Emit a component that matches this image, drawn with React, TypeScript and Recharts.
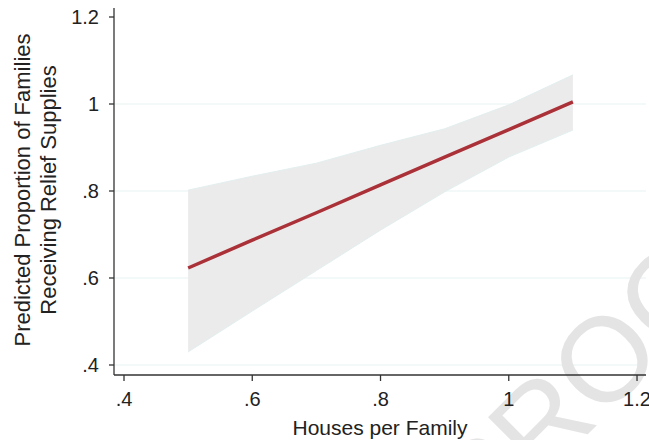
import {
  Area, CartesianGrid, ComposedChart, Line, XAxis, YAxis,
} from "recharts";

// Predicted share of families receiving relief, by houses per family, with 95% CI
const houses = [0.5, 0.6, 0.7, 0.8, 0.9, 1.0, 1.1];
const predicted = [0.623, 0.687, 0.75, 0.814, 0.878, 0.941, 1.005];
const ciLow = [0.43, 0.524, 0.617, 0.71, 0.798, 0.878, 0.94];
const ciHigh = [0.802, 0.834, 0.864, 0.905, 0.943, 0.998, 1.067];

const xTicks = [0.4, 0.6, 0.8, 1, 1.2];
const yTicks = [0.4, 0.6, 0.8, 1, 1.2];
const gridValues = [0.4, 0.6, 0.8, 1];

const data = houses.map((h, i) => ({
  houses: h,
  fit: predicted[i],
  ci: [ciLow[i], ciHigh[i]],
}));

const font = "'Liberation Sans', Arial, Helvetica, sans-serif";
const axisStroke = "#333";
const tick = { fill: "#222", fontSize: 20, fontFamily: font };
// Stata-style labels: ".4" instead of "0.4"
const fmt = (v: number) => String(Number(v.toFixed(2))).replace(/^0\./, ".");

export default function App() {
  return (
    <div style={{ position: "absolute", left: 0, top: 0, width: 649, height: 440, background: "#fff", overflow: "hidden" }}>
      <ComposedChart width={649} height={440} data={data} margin={{ top: 8, right: 3, bottom: 0, left: 0 }}>
        <text
          x={483}
          y={539}
          transform="rotate(-45 483 539)"
          fontFamily={font}
          fontSize={120}
          fill="#e4e4e4"
        >
          PROOF
        </text>
        <CartesianGrid vertical={false} horizontalValues={gridValues} stroke="#e8f1f2" strokeWidth={1.2} />
        <XAxis
          dataKey="houses"
          type="number"
          domain={[0.3844, 1.214]}
          allowDataOverflow
          ticks={xTicks}
          interval={0}
          tickFormatter={fmt}
          tick={tick}
          tickSize={6}
          tickMargin={11}
          height={65}
          stroke={axisStroke}
          strokeWidth={1.3}
          label={{
            value: "Houses per Family",
            position: "insideBottom",
            offset: 5,
            style: { fill: "#222", fontSize: 21, fontFamily: font },
          }}
        />
        <YAxis
          type="number"
          domain={[0.377, 1.2207]}
          allowDataOverflow
          ticks={yTicks}
          interval={0}
          tickFormatter={fmt}
          tick={tick}
          tickSize={5}
          tickMargin={10}
          width={114}
          stroke={axisStroke}
          strokeWidth={1.3}
        />
        <text
          transform="rotate(-90)"
          textAnchor="middle"
          dominantBaseline="central"
          fontFamily={font}
          fontSize={22}
          fill="#222"
        >
          <tspan x={-190} y={22}>Predicted Proportion of Families</tspan>
          <tspan x={-190} y={48}>Receiving Relief Supplies</tspan>
        </text>
        <Area
          dataKey="ci"
          type="linear"
          fill="#ebebeb"
          fillOpacity={1}
          stroke="#e3eeef"
          strokeWidth={1}
          isAnimationActive={false}
        />
        <Line
          dataKey="fit"
          type="linear"
          stroke="#ab3139"
          strokeWidth={3.5}
          dot={false}
          isAnimationActive={false}
        />
      </ComposedChart>
    </div>
  );
}
